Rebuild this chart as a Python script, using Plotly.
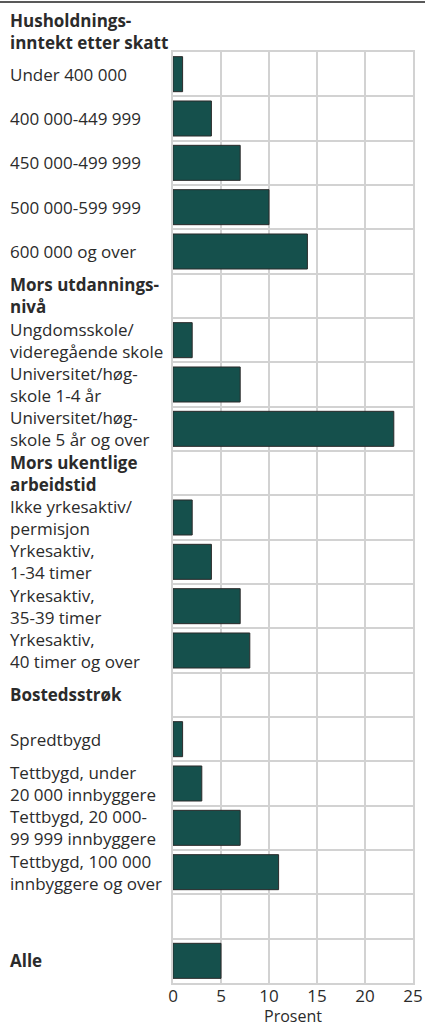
import plotly.graph_objects as go

# ---- data ----
group_title = "Husholdnings-<br>inntekt etter skatt"
labels = [
    "Under 400 000",
    "400 000-449 999",
    "450 000-499 999",
    "500 000-599 999",
    "600 000 og over",
    "Mors utdannings-<br>nivå",
    "Ungdomsskole/<br>videregående skole",
    "Universitet/høg-<br>skole 1-4 år",
    "Universitet/høg-<br>skole 5 år og over",
    "Mors ukentlige<br>arbeidstid",
    "Ikke yrkesaktiv/<br>permisjon",
    "Yrkesaktiv,<br>1-34 timer",
    "Yrkesaktiv,<br>35-39 timer",
    "Yrkesaktiv,<br>40 timer og over",
    "Bostedsstrøk",
    "Spredtbygd",
    "Tettbygd, under<br>20 000 innbyggere",
    "Tettbygd, 20 000-<br>99 999 innbyggere",
    "Tettbygd, 100 000<br>innbyggere og over",
    "",
    "Alle",
]
values = [1, 4, 7, 10, 14, None, 2, 7, 23, None, 2, 4, 7, 8, None, 1, 3, 7, 11, None, 5]
bold = [False]*5 + [True] + [False]*3 + [True] + [False]*4 + [True] + [False]*4 + [False, True]
x_ticks = [0, 5, 10, 15, 20, 25]
x_title = "Prosent"

# ---- layout constants ----
W, H = 425, 1028
ML, MR, MT, MB = 173, 12, 52, 45
PW = W - ML - MR
PH = H - MT - MB
FONT = "Open Sans, Noto Sans, sans-serif"
FS = 17
TXT = "#2b2b2b"
GRID = "#d2d2d2"

pos = list(range(len(labels)))
bx = [v for v in values if v is not None]
by = [p for p, v in zip(pos, values) if v is not None]

fig = go.Figure(go.Bar(
    x=bx, y=by, orientation="h",
    width=0.79,
    marker=dict(color="#15504c", line=dict(color="#2a2a2a", width=1)),
    hoverinfo="skip",
))

annotations = []
lab_x = (8 - ML) / PW
for p, lab, b in zip(pos, labels, bold):
    if not lab:
        continue
    annotations.append(dict(
        x=lab_x, xref="paper", y=p, yref="y",
        text=f"<b>{lab}</b>" if b else lab,
        xanchor="left", yanchor="middle", align="left", showarrow=False,
        font=dict(family=FONT, size=FS, color=TXT),
    ))
annotations.append(dict(
    x=lab_x, xref="paper", y=1 + (MT - 32) / PH, yref="paper",
    text=f"<b>{group_title}</b>",
    xanchor="left", yanchor="middle", align="left", showarrow=False,
    font=dict(family=FONT, size=FS, color=TXT),
))
annotations.append(dict(
    x=0.5, xref="paper", y=-(1016 - (MT + PH)) / PH, yref="paper",
    text=x_title, xanchor="center", yanchor="middle", showarrow=False,
    font=dict(family=FONT, size=16, color=TXT),
))

fig.update_layout(
    width=W, height=H, autosize=False,
    margin=dict(l=ML, r=MR, t=MT, b=MB, pad=0, autoexpand=False),
    plot_bgcolor="white", paper_bgcolor="white",
    showlegend=False,
    font=dict(family=FONT, size=FS, color=TXT),
    annotations=annotations,
    shapes=[dict(
        type="line", xref="paper", yref="paper",
        x0=-ML / PW, x1=(W - ML) / PW,
        y0=1 + (MT - 2) / PH, y1=1 + (MT - 2) / PH,
        line=dict(color="#222222", width=1.5),
    )],
    xaxis=dict(
        range=[0, 25], tickvals=x_ticks, ticks="",
        automargin=False, ticklabelstandoff=-3,
        showgrid=True, gridcolor=GRID, gridwidth=2,
        zeroline=False,
        showline=True, mirror=True, linecolor=GRID, linewidth=2,
        tickfont=dict(family=FONT, size=FS, color=TXT),
    ),
    yaxis=dict(
        range=[len(labels) - 0.5, -0.5],
        tickvals=[p + 0.5 for p in pos[:-1]],
        automargin=False,
        showticklabels=False, ticks="",
        showgrid=True, gridcolor=GRID, gridwidth=2,
        zeroline=False,
        showline=True, mirror=True, linecolor=GRID, linewidth=2,
    ),
)

fig.write_html(
    "out.html",
    config={"responsive": False, "displayModeBar": False, "staticPlot": True},
    post_script=(
        "document.body.style.margin='0';document.body.style.padding='0';"
        "document.body.style.overflow='hidden';"
    ),
)
